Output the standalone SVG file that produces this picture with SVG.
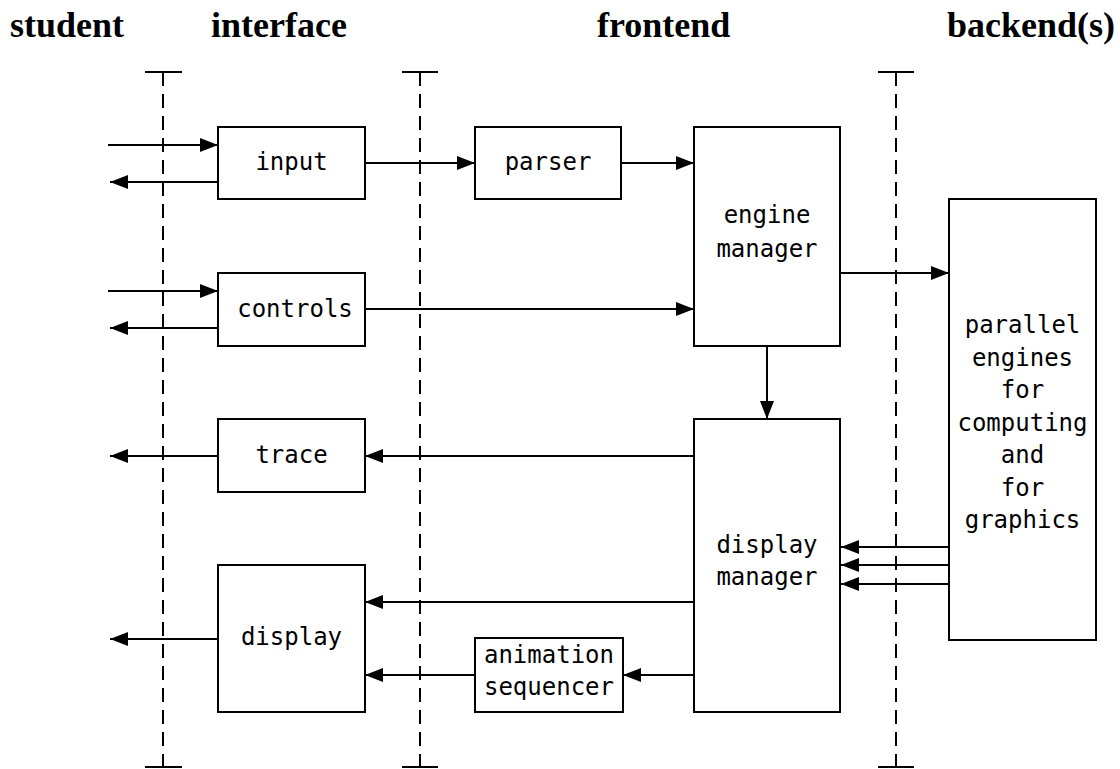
<svg xmlns="http://www.w3.org/2000/svg" width="1120" height="769" viewBox="0 0 1120 769">
<style>
.hdr{font-family:"Liberation Serif","Times New Roman",serif;font-weight:bold;font-size:36px;fill:#000}
.lbl{font-family:"DejaVu Sans Mono","Liberation Mono",monospace;font-size:24px;fill:#000;text-anchor:middle}
.box{fill:#fff;stroke:#000;stroke-width:2}
.lane{stroke:#000;stroke-width:2;stroke-dasharray:14 8;fill:none}
.tee{stroke:#000;stroke-width:2;fill:none}
.con{stroke:#000;stroke-width:2;fill:none;marker-end:url(#ah)}
</style>
<defs>
<marker id="ah" markerUnits="userSpaceOnUse" markerWidth="18" markerHeight="14" refX="18" refY="7" orient="auto">
<path d="M0,0 L18,7 L0,14 z" fill="#000"/>
</marker>
</defs>
<g id="headers">
<text class="hdr" x="10" y="37">student</text>
<text class="hdr" x="211" y="37">interface</text>
<text class="hdr" x="597" y="37">frontend</text>
<text class="hdr" x="1115" y="37" text-anchor="end">backend(s)</text>
</g>
<g id="lanes">
<line class="lane" x1="163" y1="72" x2="163" y2="767"/>
<line class="lane" x1="420" y1="72" x2="420" y2="767"/>
<line class="lane" x1="896" y1="72" x2="896" y2="767"/>
<path class="tee" d="M145,72 H182 M145,767 H182 M402,72 H438 M402,767 H438 M878,72 H914 M878,767 H914"/>
</g>
<g id="connectors">
<line class="con" x1="108" y1="145" x2="218" y2="145"/>
<line class="con" x1="218" y1="182" x2="110" y2="182"/>
<line class="con" x1="108" y1="291" x2="218" y2="291"/>
<line class="con" x1="218" y1="328" x2="110" y2="328"/>
<line class="con" x1="365" y1="163" x2="475" y2="163"/>
<line class="con" x1="621" y1="163" x2="694" y2="163"/>
<line class="con" x1="365" y1="309" x2="694" y2="309"/>
<line class="con" x1="840" y1="273" x2="949" y2="273"/>
<line class="con" x1="767" y1="346" x2="767" y2="419"/>
<line class="con" x1="694" y1="456" x2="365" y2="456"/>
<line class="con" x1="218" y1="456" x2="110" y2="456"/>
<line class="con" x1="694" y1="602" x2="365" y2="602"/>
<line class="con" x1="475" y1="675" x2="365" y2="675"/>
<line class="con" x1="694" y1="675" x2="623" y2="675"/>
<line class="con" x1="218" y1="639" x2="110" y2="639"/>
<line class="con" x1="949" y1="547" x2="841" y2="547"/>
<line class="con" x1="949" y1="565" x2="841" y2="565"/>
<line class="con" x1="949" y1="584" x2="841" y2="584"/>
</g>
<g id="input"><rect class="box" x="218" y="127" width="147" height="72"/><text class="lbl" x="291.5" y="170">input</text></g>
<g id="controls"><rect class="box" x="218" y="273" width="147" height="73"/><text class="lbl" x="295" y="317">controls</text></g>
<g id="parser"><rect class="box" x="475" y="127" width="146" height="72"/><text class="lbl" x="548" y="170">parser</text></g>
<g id="engine-manager"><rect class="box" x="694" y="127" width="146" height="219"/><text class="lbl" x="767" y="223">engine</text><text class="lbl" x="767" y="257">manager</text></g>
<g id="backend"><rect class="box" x="949" y="199" width="147" height="441"/>
<text class="lbl" x="1022.5" y="333">parallel</text>
<text class="lbl" x="1022.5" y="365.5">engines</text>
<text class="lbl" x="1022.5" y="398">for</text>
<text class="lbl" x="1022.5" y="430.5">computing</text>
<text class="lbl" x="1022.5" y="463">and</text>
<text class="lbl" x="1022.5" y="495.5">for</text>
<text class="lbl" x="1022.5" y="528">graphics</text></g>
<g id="trace"><rect class="box" x="218" y="419" width="147" height="73"/><text class="lbl" x="291.5" y="463">trace</text></g>
<g id="display"><rect class="box" x="218" y="565" width="147" height="147"/><text class="lbl" x="291.5" y="645">display</text></g>
<g id="display-manager"><rect class="box" x="694" y="419" width="146" height="293"/><text class="lbl" x="767" y="553">display</text><text class="lbl" x="767" y="585">manager</text></g>
<g id="animation-sequencer"><rect class="box" x="475" y="638" width="148" height="74"/><text class="lbl" x="549" y="663">animation</text><text class="lbl" x="549" y="695">sequencer</text></g>
</svg>
